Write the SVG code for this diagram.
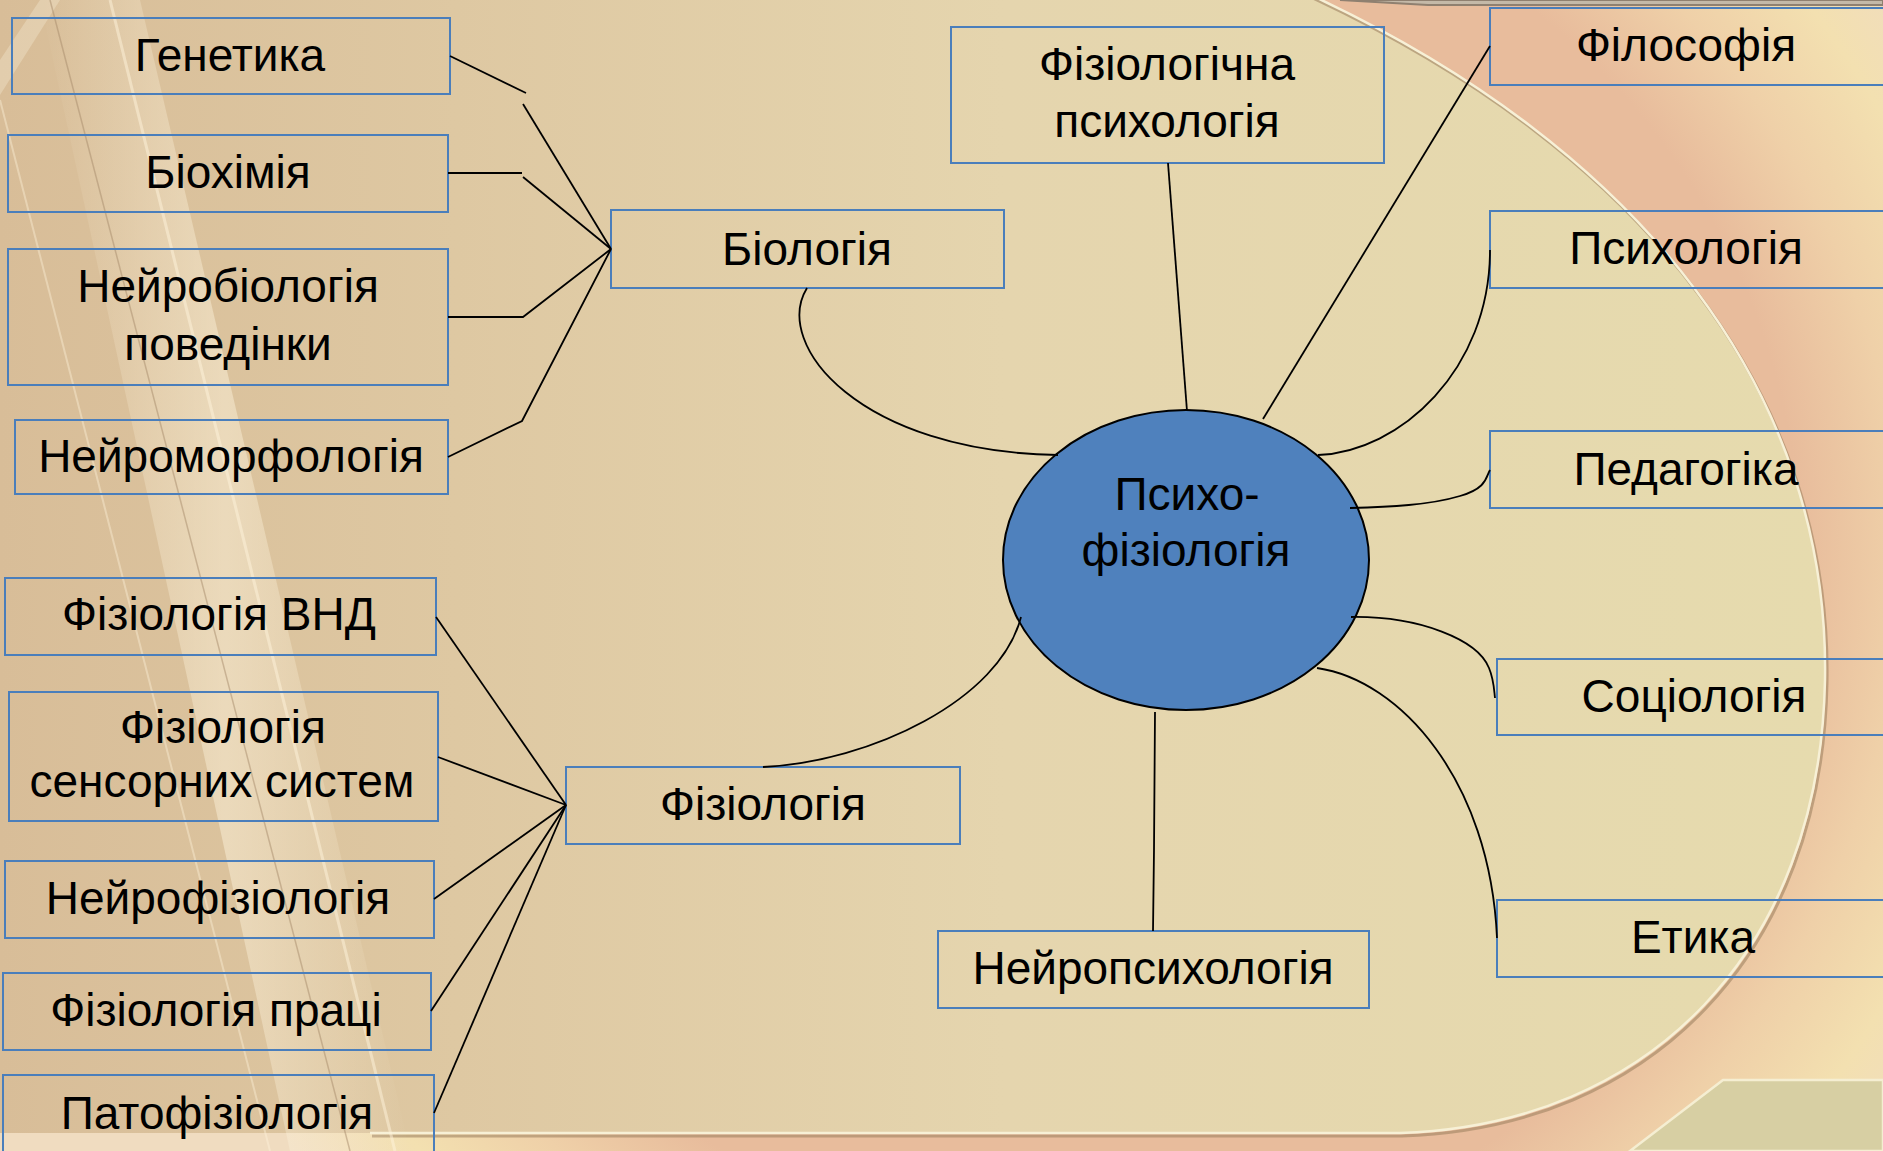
<svg xmlns="http://www.w3.org/2000/svg" width="1883" height="1151" viewBox="0 0 1883 1151">
<defs>
<linearGradient id="gPanel" x1="0" y1="0" x2="1" y2="0">
<stop offset="0" stop-color="#D8BD98"/>
<stop offset="0.25" stop-color="#DEC8A2"/>
<stop offset="0.55" stop-color="#E5D5AE"/>
<stop offset="1" stop-color="#E6DBAE"/>
</linearGradient>
<radialGradient id="gOut" cx="1100" cy="560" r="1000" gradientUnits="userSpaceOnUse">
<stop offset="0.7" stop-color="#E8BC9C"/>
<stop offset="0.8" stop-color="#EFD0A8"/>
<stop offset="0.9" stop-color="#F3E0B0"/>
<stop offset="1" stop-color="#F0DCC0"/>
</radialGradient>
<linearGradient id="gBand" x1="0" y1="0" x2="1" y2="0">
<stop offset="0" stop-color="#FFF6E0" stop-opacity="0"/>
<stop offset="0.5" stop-color="#FFF6E0" stop-opacity="0.45"/>
<stop offset="1" stop-color="#FFF6E0" stop-opacity="0"/>
</linearGradient>
<style>
.box{fill:none;stroke:#4A7EBB;stroke-width:2}
.t{font-family:"Liberation Sans",Arial,sans-serif;font-size:46px;fill:#000;text-anchor:middle}
.c{fill:none;stroke:#000;stroke-width:1.8}
</style>
</defs>

<g id="background">
<rect x="0" y="0" width="1883" height="1151" fill="url(#gOut)"/>
<path d="M1300,-10 C1650,150 1830,400 1825,680 C1820,950 1650,1125 1400,1133 L0,1133 L0,-10 Z" fill="url(#gPanel)"/>
<path d="M1300,-10 C1650,150 1830,400 1825,680 C1820,950 1650,1125 1400,1133 L370,1133" fill="none" stroke="#A08462" stroke-width="3" transform="translate(2,3)" opacity="0.6"/>
<path d="M1300,-10 C1650,150 1830,400 1825,680 C1820,950 1650,1125 1400,1133 L370,1133" fill="none" stroke="#F7F0D6" stroke-width="2.5"/>
<path d="M1630,1151 L1723,1080 L1883,1080 L1883,1151 Z" fill="#D7CFA3" stroke="#F5EED2" stroke-width="2.5"/>
<path d="M1340,0 L1428,5 L1883,5 L1883,0 Z" fill="#C4B9A8" stroke="#8F8070" stroke-width="2"/>
<path d="M40,0 L140,0 L410,1151 L290,1151 Z" fill="url(#gBand)"/>
<path d="M0,60 L40,0 L60,0 L0,95 Z" fill="#F3E6CC" opacity="0.4"/>
<line x1="50" y1="0" x2="350" y2="1151" stroke="#A88C6C" stroke-width="1.5" opacity="0.5"/>
<line x1="110" y1="0" x2="395" y2="1151" stroke="#FFF4DC" stroke-width="3" opacity="0.5"/>
<line x1="0" y1="100" x2="270" y2="1151" stroke="#FFF4DC" stroke-width="2" opacity="0.4"/>
</g>

<g id="psychophysiology">
<ellipse cx="1186" cy="560" rx="183" ry="150" fill="#4F81BD" stroke="#000" stroke-width="2"/>
<text class="t" x="1187" y="510">Психо-</text>
<text class="t" x="1186" y="566">фізіологія</text>
</g>

<g id="genetics"><rect class="box" x="12" y="18" width="438" height="76"/><text class="t" x="230" y="71">Генетика</text></g>
<g id="biochemistry"><rect class="box" x="8" y="135" width="440" height="77"/><text class="t" x="228" y="188">Біохімія</text></g>
<g id="neurobiology"><rect class="box" x="8" y="249" width="440" height="136"/><text class="t" x="228" y="302">Нейробіологія</text><text class="t" x="228" y="360">поведінки</text></g>
<g id="neuromorphology"><rect class="box" x="15" y="420" width="433" height="74"/><text class="t" x="231" y="472">Нейроморфологія</text></g>
<g id="biology"><rect class="box" x="611" y="210" width="393" height="78"/><text class="t" x="807" y="265">Біологія</text></g>
<g id="physiological-psychology"><rect class="box" x="951" y="27" width="433" height="136"/><text class="t" x="1167" y="80">Фізіологічна</text><text class="t" x="1167" y="137">психологія</text></g>
<g id="philosophy"><rect class="box" x="1490" y="8" width="400" height="77"/><text class="t" x="1686" y="61">Філософія</text></g>
<g id="psychology"><rect class="box" x="1490" y="211" width="400" height="77"/><text class="t" x="1686" y="264">Психологія</text></g>
<g id="pedagogy"><rect class="box" x="1490" y="431" width="400" height="77"/><text class="t" x="1686" y="485">Педагогіка</text></g>
<g id="sociology"><rect class="box" x="1497" y="659" width="400" height="76"/><text class="t" x="1694" y="712">Соціологія</text></g>
<g id="ethics"><rect class="box" x="1497" y="900" width="400" height="77"/><text class="t" x="1693" y="953">Етика</text></g>
<g id="neuropsychology"><rect class="box" x="938" y="931" width="431" height="77"/><text class="t" x="1153" y="984">Нейропсихологія</text></g>
<g id="physiology"><rect class="box" x="566" y="767" width="394" height="77"/><text class="t" x="763" y="820">Фізіологія</text></g>
<g id="physiology-hna"><rect class="box" x="5" y="578" width="431" height="77"/><text class="t" x="219" y="630">Фізіологія ВНД</text></g>
<g id="sensory-physiology"><rect class="box" x="9" y="692" width="429" height="129"/><text class="t" x="223" y="743">Фізіологія</text><text class="t" x="222" y="797">сенсорних систем</text></g>
<g id="neurophysiology"><rect class="box" x="5" y="861" width="429" height="77"/><text class="t" x="218" y="914">Нейрофізіологія</text></g>
<g id="labour-physiology"><rect class="box" x="3" y="973" width="428" height="77"/><text class="t" x="216" y="1026">Фізіологія праці</text></g>
<g id="pathophysiology"><rect class="box" x="3" y="1075" width="431" height="90"/><text class="t" x="217" y="1129">Патофізіологія</text></g>

<g id="connectors">
<path class="c" d="M450,56 L526,93"/>
<path class="c" d="M523,104 L611,249"/>
<path class="c" d="M448,173 L522,173"/>
<path class="c" d="M523,177 L611,249"/>
<path class="c" d="M448,317 L523,317 L611,249"/>
<path class="c" d="M448,457 L522,421 L611,249"/>
<path class="c" d="M436,617 L566,805"/>
<path class="c" d="M438,757 L566,805"/>
<path class="c" d="M434,899 L566,805"/>
<path class="c" d="M431,1011 L566,805"/>
<path class="c" d="M434,1113 L566,805"/>
<path class="c" d="M807,288 C772,345 860,452 1058,455"/>
<path class="c" d="M1168,163 L1187,411"/>
<path class="c" d="M1263,419 L1490,46"/>
<path class="c" d="M1490,250 C1490,370 1400,452 1318,455"/>
<path class="c" d="M1490,470 C1486,476 1488,488 1460,496 C1430,505 1390,507 1350,508"/>
<path class="c" d="M1351,617 C1420,616 1478,640 1489,668 C1494,680 1494,690 1495,698"/>
<path class="c" d="M1317,668 C1400,680 1490,780 1497,938"/>
<path class="c" d="M1155,712 L1154,850 L1153,931"/>
<path class="c" d="M763,767 C870,762 1000,700 1021,617"/>
</g>
</svg>
